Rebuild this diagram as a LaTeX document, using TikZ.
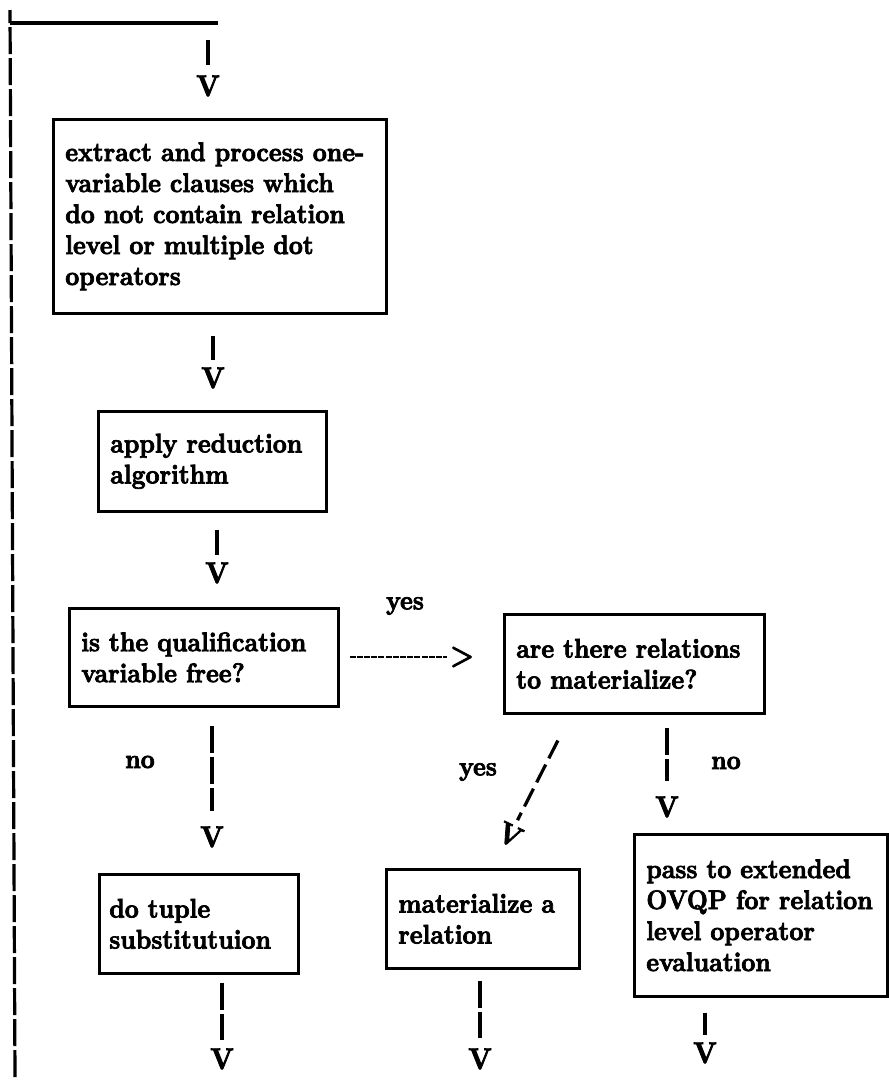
\documentclass[tikz,border=0pt]{standalone}
\usepackage{fontspec}
\newfontfamily\heavy{lmroman10-bold.otf}[FakeBold=2.6,FakeStretch=0.9]
\tikzset{
  stepbox/.style={draw, line width=2.6pt, anchor=north west, align=left, inner xsep=12pt,
    font=\heavy\fontsize{27}{31}\selectfont},
  tip/.style={inner sep=0pt, font=\heavy\fontsize{30}{31}\selectfont},
  lbl/.style={font=\heavy\fontsize{27}{28}\selectfont},
  bar/.style={line width=3.2pt},
  brokenbar/.style={line width=3.2pt, dash pattern=on 27pt off 4pt},
  diagbar/.style={line width=3.2pt, dash pattern=on 20pt off 7pt},
  hdash/.style={line width=2.8pt, dash pattern=on 6pt off 1.2pt}
}
\begin{document}
\begin{tikzpicture}[x=1pt, y=-1pt]
\useasboundingbox (0,0) rectangle (889,1088);
\node[stepbox, text width=309pt, minimum height=194pt] (1) at (52,118) {extract and process one-\\variable clauses which\\do not contain relation\\level or multiple dot\\operators};
\node[stepbox, text width=204pt, minimum height=100pt] (2) at (97,410) {apply reduction\\algorithm};
\node[stepbox, text width=245pt, minimum height=98pt] (3) at (68,607) {is the qualification\\variable free?};
\node[stepbox, text width=236pt, minimum height=99pt] (4) at (503,613) {are there relations\\to materialize?};
\node[stepbox, text width=179pt, minimum height=99pt, inner xsep=10pt] (5) at (98,873) {do tuple\\substitutuion};
\node[stepbox, text width=169pt, minimum height=99pt] (6) at (385,868) {materialize a\\relation};
\node[stepbox, text width=229pt, minimum height=162pt] (7) at (633,833) {pass to extended\\OVQP for relation\\level operator\\evaluation};
\node[tip] (v0) at (208,86) {V};
\node[tip] (v1) at (213,378) {V};
\node[tip] (v2) at (217,573) {V};
\node[tip] (v3) at (212,837) {V};
\node[tip, rotate=-26] (v4) at (510,835) {V};
\node[tip] (v5) at (667,807) {V};
\node[tip] (v6) at (222,1059) {V};
\node[tip] (v7) at (480,1059) {V};
\node[tip] (v8) at (705,1053) {V};
\node[tip] (gt) at (462,657) {>};
\node[lbl] (yes1) at (405,606) {yes};
\node[lbl] (no1) at (140,762) {no};
\node[lbl] (yes2) at (478,772) {yes};
\node[lbl] (no2) at (726,763) {no};
\coordinate (looptop) at (10,10);
\coordinate (loopjoin) at (10,23);
\coordinate (loopturn) at (218,23);
\coordinate (loopbot) at (15,1077);
\path[draw,brokenbar] (loopbot) -- (looptop);
\path[draw,bar] (loopjoin) -- (loopturn);
\path[draw,bar,shorten <=17pt,shorten >=10pt] (v0 |- loopturn) -- (v0.north);
\path[draw,bar,shorten <=21pt,shorten >=7pt] (1.south -| v1) -- (v1.north);
\path[draw,bar,shorten <=17pt,shorten >=7pt] (2.south -| v2) -- (v2.north);
\path[draw,hdash,shorten <=10pt,shorten >=3pt] (3.east |- gt) -- (gt.west);
\path[draw,brokenbar,shorten <=18pt,shorten >=15pt] (3.south -| v3) -- (v3.north);
\path[draw,diagbar,shorten <=29pt,shorten >=6pt] ([xshift=68pt]4.south west) -- (v4);
\path[draw,brokenbar,shorten <=13pt,shorten >=15pt] (4.south -| v5) -- (v5.north);
\path[draw,brokenbar,shorten <=8pt,shorten >=8pt] (5.south -| v6) -- (v6.north);
\path[draw,brokenbar,shorten <=11pt,shorten >=10pt] (6.south -| v7) -- (v7.north);
\path[draw,bar,shorten <=15pt,shorten >=7pt] (7.south -| v8) -- (v8.north);
\end{tikzpicture}
\end{document}
